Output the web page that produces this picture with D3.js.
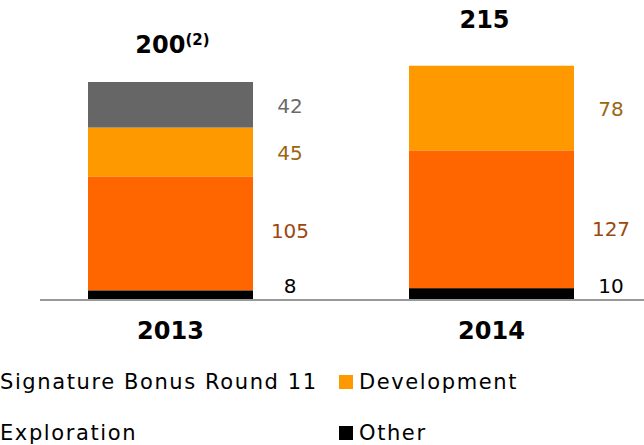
<!DOCTYPE html>
<meta charset="utf-8">
<style>
body { margin: 0; background: #ffffff; }
text { font-family: "DejaVu Sans", Verdana, sans-serif; }
</style>
<body>
<script src="https://d3js.org/d3.v7.min.js"></script>
<script>

// chart data
var years = ["2013", "2014"];
var seriesNames = ["Other", "Exploration", "Development", "Signature Bonus Round 11"];
var otherVals = [8, 10];
var explorationVals = [105, 127];
var developmentVals = [45, 78];
var signatureVals = [42, 0];
var totals = [200, 215];
var totalNotes = ["(2)", ""];

var colors = {
  "Other": "#000000",
  "Exploration": "#ff6600",
  "Development": "#ff9900",
  "Signature Bonus Round 11": "#666666"
};
var labelColors = {
  "Other": "#000000",
  "Exploration": "#9c4710",
  "Development": "#9a6612",
  "Signature Bonus Round 11": "#6b6b6b"
};

var width = 644, height = 445;

var svg = d3.select("body").append("svg")
  .attr("width", width)
  .attr("height", height);

var x = d3.scaleBand()
  .domain(years)
  .range([88, 574])
  .paddingInner(0.486)
  .paddingOuter(0);

var y = d3.scaleLinear()
  .domain([0, 200])
  .range([299, 82]);

// build rows for the stack
var rows = years.map(function(yr, i) {
  return {
    year: yr,
    "Other": otherVals[i],
    "Exploration": explorationVals[i],
    "Development": developmentVals[i],
    "Signature Bonus Round 11": signatureVals[i]
  };
});

var stacked = d3.stack().keys(seriesNames)(rows);

// bars
var layers = svg.selectAll(".layer")
  .data(stacked)
  .enter().append("g")
  .attr("class", "layer")
  .attr("fill", function(d) { return colors[d.key]; });

layers.selectAll("rect")
  .data(function(d) { return d.filter(function(p) { return p[1] - p[0] > 0; }); })
  .enter().append("rect")
  .attr("x", function(d) { return x(d.data.year); })
  .attr("width", x.bandwidth())
  .attr("y", function(d) { return y(d[1]); })
  .attr("height", function(d) { return y(d[0]) - y(d[1]); });

// value labels to the right of each segment
stacked.forEach(function(layer) {
  layer.forEach(function(p) {
    var v = p[1] - p[0];
    if (v <= 0) return;
    var mid = (y(p[0]) + y(p[1])) / 2;
    var ly = layer.key == "Exploration" ? y(p[0]) - 52 : Math.min(mid + 8, y(0) - 6);
    svg.append("text")
      .attr("x", x(p.data.year) + x.bandwidth() + 37)
      .attr("y", ly)
      .attr("text-anchor", "middle")
      .style("font-size", "20px")
      .style("fill", labelColors[layer.key])
      .text(v);
  });
});

// baseline
svg.append("line")
  .attr("x1", 40)
  .attr("x2", width)
  .attr("y1", y(0) + 1)
  .attr("y2", y(0) + 1)
  .attr("stroke", "#999999")
  .attr("stroke-width", 2);

// totals
years.forEach(function(yr, i) {
  var t = svg.append("text")
    .attr("x", x(yr) + x.bandwidth() / 2 - (totalNotes[i] ? -2 : 7))
    .attr("y", i == 0 ? y(totals[i]) - 29 : y(totals[i]) - 38)
    .attr("text-anchor", "middle")
    .style("font-size", "24px")
    .style("font-weight", "bold")
    .style("fill", "#000");
  t.append("tspan").text(totals[i]);
  if (totalNotes[i]) {
    t.append("tspan")
      .attr("dy", -8)
      .style("font-size", "15px")
      .text(totalNotes[i]);
  }
});

// x axis labels
var xAxis = d3.axisBottom(x).tickSize(0).tickPadding(0);
var ax = svg.append("g")
  .attr("transform", "translate(0," + 322 + ")")
  .call(xAxis);
ax.select(".domain").remove();
ax.selectAll("text")
  .attr("dy", "0.71em")
  .style("font-family", "'DejaVu Sans', Verdana, sans-serif")
  .style("font-size", "24px")
  .style("font-weight", "bold")
  .style("fill", "#000");

// legend
var legendItems = ["Signature Bonus Round 11", "Development", "Exploration", "Other"];
var legend = svg.append("g").attr("class", "legend");
legendItems.forEach(function(name, i) {
  var col = i % 2, row = Math.floor(i / 2);
  var tx = col * 359, ty = 389 + row * 51;
  legend.append("rect")
    .attr("x", tx - 20)
    .attr("y", ty - 14)
    .attr("width", 14)
    .attr("height", 14)
    .attr("fill", colors[name]);
  legend.append("text")
    .attr("x", tx)
    .attr("y", ty)
    .style("font-size", "21px")
    .style("letter-spacing", "1.6px")
    .style("fill", "#000")
    .text(name);
});

</script>
</body>
